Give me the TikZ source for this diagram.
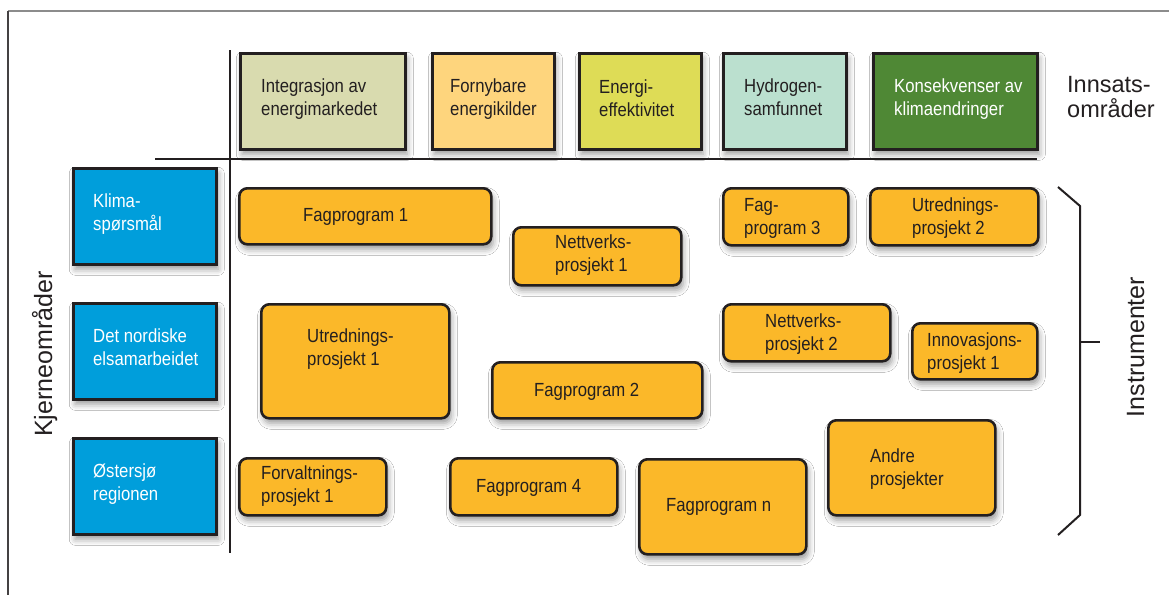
\documentclass[tikz,border=0pt]{standalone}
\usepackage{fontspec}
\setmainfont{Liberation Sans}
\newfontfamily\boxfont[FakeStretch=0.88]{Liberation Sans}
\usetikzlibrary{shadows.blur}
\definecolor{ink}{HTML}{231F20}
\definecolor{orangeF}{HTML}{FBB829}
\definecolor{blueF}{HTML}{009EDB}
\definecolor{hA}{HTML}{D9DBAF}
\definecolor{hB}{HTML}{FED57D}
\definecolor{hC}{HTML}{DEDC56}
\definecolor{hD}{HTML}{BBE0CF}
\definecolor{hE}{HTML}{4F8835}
\definecolor{frameGray}{HTML}{8C8C8C}
\newcommand\fst{\rule{0pt}{15pt}}
\tikzset{
  box/.style={draw=ink, line width=2.6pt, inner sep=0pt, anchor=north west,
    blur shadow={shadow xshift=2pt, shadow yshift=-5pt, shadow blur radius=6pt, shadow opacity=40}},
  obox/.style={box, rounded corners=8pt, fill=orangeF},
  bbox/.style={box, fill=blueF},
  hbox/.style={box},
  txt/.style={inner sep=0pt, anchor=north west, align=left, text=ink,
    font=\fontsize{19}{23.5}\boxfont},
  wtxt/.style={txt, text=white},
  big/.style={inner sep=0pt, text=ink, font=\fontsize{25}{28}\selectfont},
  axis/.style={draw=ink, line width=2.4pt},
  bracel/.style={draw=ink, line width=2pt}
}
\begin{document}
\begin{tikzpicture}[x=1pt,y=-1pt]
\useasboundingbox (0,0) rectangle (1169,595);
\fill[white] (0,0) rectangle (1169,595);
% frame
\draw[frameGray, line width=2pt] (8,11) -- (1169,11);
\draw[ink!85, line width=1.6pt] (8,11) -- (8,595);

% axes
\coordinate (vtop) at (230,50);
\coordinate (vbot) at (230,553);
\coordinate (hl) at (155,159);
\coordinate (hr) at (1037,159);
\draw[axis] (vtop) -- (vbot);
\draw[axis] (hl) -- (hr);

% header boxes
\node[hbox, fill=hA, minimum width=165pt, minimum height=96pt] (h1) at (239,52) {};
\node[hbox, fill=hB, minimum width=122pt, minimum height=96pt] (h2) at (431,52) {};
\node[hbox, fill=hC, minimum width=122pt, minimum height=96pt] (h3) at (578,52) {};
\node[hbox, fill=hD, minimum width=123pt, minimum height=96pt] (h4) at (722,52) {};
\node[hbox, fill=hE, minimum width=164pt, minimum height=96pt] (h5) at (872,52) {};
\node[txt] (t-h1) at (261,77) {\fst Integrasjon av\\energimarkedet};
\node[txt] (t-h2) at (450,77) {\fst Fornybare\\energikilder};
\node[txt] (t-h3) at (599,78) {\fst Energi-\\effektivitet};
\node[txt] (t-h4) at (744,77) {\fst Hydrogen-\\samfunnet};
\node[wtxt] (t-h5) at (894,77) {\fst Konsekvenser av\\klimaendringer};

\node[big, anchor=north west, align=left, font=\fontsize{23.5}{25.3}\selectfont] (innsats) at (1067,73) {\rule{0pt}{19pt}Innsats-\\områder};

% blue boxes
\node[bbox, minimum width=143pt, minimum height=96pt] (b1) at (72,167) {};
\node[bbox, minimum width=143pt, minimum height=96pt] (b2) at (72,302) {};
\node[bbox, minimum width=143pt, minimum height=96pt] (b3) at (72,437) {};
\node[wtxt] (t-b1) at (93,192) {\fst Klima-\\spørsmål};
\node[wtxt] (t-b2) at (93,327) {\fst Det nordiske\\elsamarbeidet};
\node[wtxt] (t-b3) at (93,462) {\fst Østersjø\\regionen};

\node[big, rotate=90, anchor=base] (kjerne) at (52,354) {Kjerneområder};

% orange boxes
\node[obox, minimum width=252pt, minimum height=56pt] (fp1) at (238,187) {};
\node[obox, minimum width=168pt, minimum height=58pt] (nv1) at (512,226) {};
\node[obox, minimum width=125pt, minimum height=57pt] (fp3) at (722,187) {};
\node[obox, minimum width=168pt, minimum height=57pt] (ut2) at (869,187) {};
\node[obox, minimum width=188pt, minimum height=114pt] (ut1) at (260,303) {};
\node[obox, minimum width=167pt, minimum height=57pt] (nv2) at (722,303) {};
\node[obox, minimum width=125pt, minimum height=56pt] (in1) at (911,322) {};
\node[obox, minimum width=210pt, minimum height=56pt] (fp2) at (491,361) {};
\node[obox, minimum width=147pt, minimum height=57pt] (fv1) at (238,457) {};
\node[obox, minimum width=167pt, minimum height=57pt] (fp4) at (449,457) {};
\node[obox, minimum width=167pt, minimum height=95pt] (fpn) at (638,458) {};
\node[obox, minimum width=167pt, minimum height=95pt] (an) at (827,419) {};

\node[txt] (t-fp1) at (303,206) {\fst Fagprogram 1};
\node[txt] (t-nv1) at (555,233) {\fst Nettverks-\\prosjekt 1};
\node[txt] (t-fp3) at (744,196) {\fst Fag-\\program 3};
\node[txt] (t-ut2) at (912,196) {\fst Utrednings-\\prosjekt 2};
\node[txt] (t-ut1) at (307,327) {\fst Utrednings-\\prosjekt 1};
\node[txt] (t-nv2) at (765,312) {\fst Nettverks-\\prosjekt 2};
\node[txt] (t-in1) at (927,331) {\fst Innovasjons-\\prosjekt 1};
\node[txt] (t-fp2) at (534,381) {\fst Fagprogram 2};
\node[txt] (t-fv1) at (261,464) {\fst Forvaltnings-\\prosjekt 1};
\node[txt] (t-fp4) at (476,477) {\fst Fagprogram 4};
\node[txt] (t-fpn) at (666,496) {\fst Fagprogram n};
\node[txt] (t-an) at (870,447) {\fst Andre\\prosjekter};

% brace
\coordinate (br1) at (1058,187);
\coordinate (br2) at (1080,206);
\coordinate (br3) at (1080,515);
\coordinate (br4) at (1058,535);
\coordinate (brm) at (1080,342);
\coordinate (brt) at (1100,342);
\draw[bracel] (br1) -- (br2) -- (br3) -- (br4);
\draw[bracel] (brm) -- (brt);
\node[big, rotate=90, anchor=base] (instr) at (1144,347) {Instrumenter};
\end{tikzpicture}
\end{document}
